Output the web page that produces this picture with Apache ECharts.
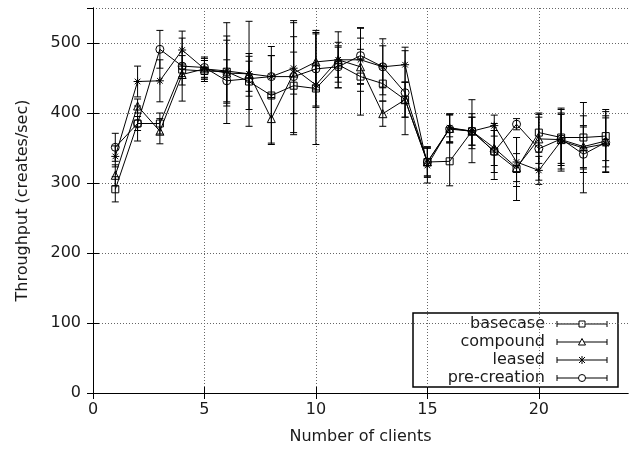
<!DOCTYPE html>
<html>
<head>
<meta charset="utf-8">
<script src="https://cdn.jsdelivr.net/npm/echarts@6/dist/echarts.min.js"></script>
<style>
  html, body { margin: 0; background: #fff; }
  #chart { width: 635px; height: 450px; }
</style>
</head>
<body>
<div id="chart"></div>
<script>
// number of clients on the x axis
const clients = [1, 2, 3, 4, 5, 6, 7, 8, 9, 10, 11, 12, 13, 14, 15, 16, 17, 18, 19, 20, 21, 22, 23]
const xTicks = [0, 5, 10, 15, 20]

// throughput (creates/sec) per series
const basecase = [291, 385, 385, 462, 460, 459, 445, 425, 439, 435, 469, 452, 442, 419, 330, 331, 374, 345, 320, 372, 365, 365, 367]
const compound = [311, 410, 374, 455, 463, 457, 456, 392, 457, 473, 476, 466, 399, 419, 330, 378, 374, 350, 322, 363, 362, 352, 360]
const leased = [338, 445, 446, 490, 463, 460, 456, 452, 464, 440, 476, 476, 466, 469, 325, 379, 374, 382, 330, 318, 360, 350, 356]
const preCreation = [351, 385, 491, 467, 465, 446, 449, 452, 452, 463, 466, 482, 466, 429, 330, 377, 374, 345, 384, 349, 363, 341, 358]

// error bar half heights
const basecaseErr = [18, 25, 15, 45, 15, 45, 40, 70, 70, 80, 25, 55, 25, 25, 22, 35, 20, 40, 45, 28, 40, 50, 35]
const compoundErr = [15, 10, 18, 15, 12, 72, 25, 35, 30, 40, 40, 25, 18, 25, 20, 20, 45, 25, 20, 35, 45, 30, 45]
const leasedErr = [15, 22, 30, 27, 15, 50, 75, 30, 65, 30, 25, 45, 40, 25, 25, 20, 20, 15, 35, 20, 40, 30, 40]
const preCreationErr = [20, 10, 27, 15, 15, 30, 25, 30, 80, 55, 30, 40, 30, 60, 20, 20, 25, 30, 8, 45, 35, 55, 35]

const chartInstance = echarts.init(document.getElementById('chart'), null, { renderer: 'canvas' })

const FONT = 'DejaVu Sans'
const TEXT_COLOR = '#1a1a1a'

// 折线点的数据
const toPoints = arr => clients.map((c, i) => [c, arr[i]])
// 误差棒数据 [x, 下限, 上限]
const toBars = (arr, err) => clients.map((c, i) => [c, arr[i] - err[i], arr[i] + err[i]])

const asterisk = 'path://M0,5L10,5M5,0L5,10M1.5,1.5L8.5,8.5M8.5,1.5L1.5,8.5'

function errorBars (params, api) {
  const x = api.value(0)
  const lo = api.coord([x, api.value(1)])
  const hi = api.coord([x, api.value(2)])
  const cap = 3.5
  const style = { stroke: '#000', lineWidth: 1 }
  return {
    type: 'group',
    children: [
      { type: 'line', shape: { x1: lo[0], y1: lo[1], x2: hi[0], y2: hi[1] }, style },
      { type: 'line', shape: { x1: lo[0] - cap, y1: lo[1], x2: lo[0] + cap, y2: lo[1] }, style },
      { type: 'line', shape: { x1: hi[0] - cap, y1: hi[1], x2: hi[0] + cap, y2: hi[1] }, style }
    ]
  }
}

const seriesDefs = [
  { name: 'basecase', data: basecase, err: basecaseErr, symbol: 'rect', size: 7 },
  { name: 'compound', data: compound, err: compoundErr, symbol: 'triangle', size: 8 },
  { name: 'leased', data: leased, err: leasedErr, symbol: asterisk, size: 8 },
  { name: 'pre-creation', data: preCreation, err: preCreationErr, symbol: 'circle', size: 8 }
]

const series = []
seriesDefs.forEach(s => {
  series.push({
    name: s.name + '-err',
    type: 'custom',
    renderItem: errorBars,
    encode: { x: 0, y: [1, 2] },
    data: toBars(s.data, s.err),
    silent: true,
    z: 2
  })
  series.push({
    name: s.name,
    type: 'line',
    data: toPoints(s.data),
    symbol: s.symbol,
    symbolSize: s.size,
    showAllSymbol: true,
    lineStyle: { color: '#000', width: 1 },
    itemStyle: { color: 'transparent', borderColor: '#000', borderWidth: 1 },
    animation: false,
    z: 3
  })
})

// 图例（画在右下角的方框）
const legendLeft = 413
const legendTop = 313
const rowH = 18
const legendChildren = [
  {
    type: 'rect',
    shape: { x: legendLeft, y: legendTop, width: 205, height: 74 },
    style: { fill: '#fff', stroke: '#000', lineWidth: 1.5 }
  }
]
seriesDefs.forEach((s, i) => {
  const cy = legendTop + 11 + i * rowH
  const lineStyle = { stroke: '#000', lineWidth: 1 }
  legendChildren.push(
    {
      type: 'text',
      style: {
        x: 545, y: cy, text: s.name, align: 'right', verticalAlign: 'middle',
        font: '16px "' + FONT + '"', fill: TEXT_COLOR
      }
    },
    { type: 'line', shape: { x1: 557, y1: cy, x2: 607, y2: cy }, style: lineStyle },
    { type: 'line', shape: { x1: 557, y1: cy - 3, x2: 557, y2: cy + 3 }, style: lineStyle },
    { type: 'line', shape: { x1: 607, y1: cy - 3, x2: 607, y2: cy + 3 }, style: lineStyle }
  )
  const mStyle = { fill: '#fff', stroke: '#000', lineWidth: 1 }
  if (s.name === 'basecase') {
    legendChildren.push({ type: 'rect', shape: { x: 579, y: cy - 3, width: 6, height: 6 }, style: mStyle })
  } else if (s.name === 'compound') {
    legendChildren.push({ type: 'polygon', shape: { points: [[582, cy - 3.5], [585.5, cy + 3], [578.5, cy + 3]] }, style: mStyle })
  } else if (s.name === 'leased') {
    const st = { stroke: '#000', lineWidth: 1 }
    legendChildren.push(
      { type: 'line', shape: { x1: 582, y1: cy - 4, x2: 582, y2: cy + 4 }, style: st },
      { type: 'line', shape: { x1: 579, y1: cy - 3, x2: 585, y2: cy + 3 }, style: st },
      { type: 'line', shape: { x1: 585, y1: cy - 3, x2: 579, y2: cy + 3 }, style: st }
    )
  } else {
    legendChildren.push({ type: 'circle', shape: { cx: 582, cy: cy, r: 3.5 }, style: mStyle })
  }
})

const axisText = { fontFamily: FONT, fontSize: 16, color: TEXT_COLOR }
const gridLine = { show: true, lineStyle: { color: '#666', type: [1, 2], width: 1 } }
const tickIn = { show: true, inside: false, length: -6, lineStyle: { color: '#000' } }

const option = {
  backgroundColor: '#fff',
  animation: false,
  textStyle: { fontFamily: FONT },
  grid: { left: 93, right: 7, top: 8, bottom: 55, containLabel: false },
  xAxis: [
    {
      type: 'value',
      min: 0,
      max: 24,
      interval: 5,
      name: 'Number of clients',
      nameLocation: 'middle',
      nameGap: 36,
      nameTextStyle: axisText,
      axisLine: { lineStyle: { color: '#000', width: 1 } },
      axisTick: Object.assign({ customValues: xTicks }, tickIn),
      axisLabel: Object.assign({ margin: 9, customValues: xTicks }, axisText),
      splitLine: gridLine
    },
    {
      type: 'value',
      position: 'top',
      min: 0,
      max: 24,
      interval: 5,
      axisLine: { show: true, lineStyle: { color: '#000', width: 1 } },
      axisTick: Object.assign({ customValues: xTicks }, tickIn),
      axisLabel: { show: false },
      splitLine: { show: false }
    }
  ],
  yAxis: [
    {
      type: 'value',
      min: 0,
      max: 550,
      interval: 100,
      name: 'Throughput (creates/sec)',
      nameLocation: 'middle',
      nameGap: 62,
      nameTextStyle: axisText,
      axisLine: { show: true, lineStyle: { color: '#000', width: 1 } },
      axisTick: tickIn,
      axisLabel: Object.assign({ margin: 12, showMaxLabel: false }, axisText),
      splitLine: gridLine
    },
    {
      type: 'value',
      position: 'right',
      min: 0,
      max: 550,
      interval: 100,
      axisLine: { show: true, lineStyle: { color: '#000', width: 1 } },
      axisTick: tickIn,
      axisLabel: { show: false },
      splitLine: { show: false }
    }
  ],
  series: series,
  graphic: [{ type: 'group', z: 100, children: legendChildren }]
}

chartInstance.setOption(option)
</script>
</body>
</html>
